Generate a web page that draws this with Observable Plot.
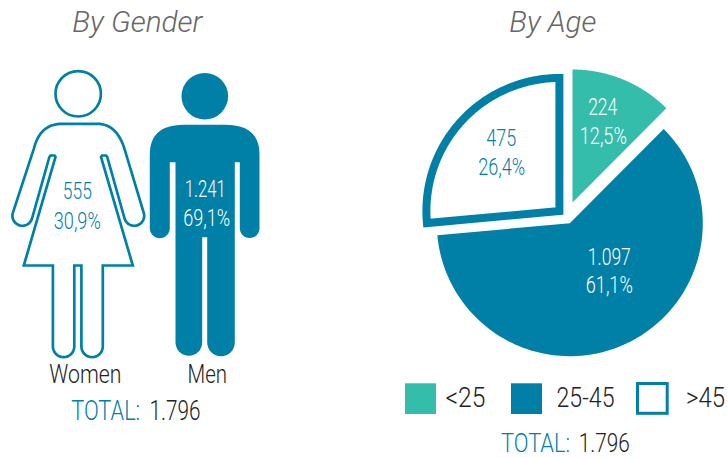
<!DOCTYPE html>
<html>
<head>
<meta charset="utf-8">
<script src="https://cdn.jsdelivr.net/npm/d3@7"></script>
<script src="https://cdn.jsdelivr.net/npm/@observablehq/plot@0.6"></script>
<style>html,body{margin:0;padding:0;background:#fff}svg{display:block}</style>
</head>
<body>
<div id="chart"></div>
<script>
// ---- values ----
const genderLabels = ["Women", "Men"];
const genderCounts = [555, 1241];
const genderPercents = [30.9, 69.1];
const ageLabels = ["<25", "25-45", ">45"];
const ageCounts = [224, 1097, 475];
const agePercents = [12.5, 61.1, 26.4];
const totalCount = 1796;

// ---- styling ----
const BLUE = "#0080A6", TEAL = "#35BDAB", INK = "#222222", GREY = "#666666", WHITE = "#ffffff";
const count = n => String(n).replace(/\B(?=(\d{3})+$)/g, ".");
const pct = v => v.toFixed(1).replace(".", ",") + "%";

// ---- glyph helpers ----
const arc = (cx, cy, r, a0, a1, n = 16) =>
  d3.range(n + 1).map(i => {
    const a = (a0 + (a1 - a0) * i / n) * Math.PI / 180;
    return [cx + r * Math.cos(a), cy + r * Math.sin(a)];
  });
const quad = (p0, c, p1, n = 14) =>
  d3.range(n + 1).map(i => {
    const t = i / n, u = 1 - t;
    return [u * u * p0[0] + 2 * u * t * c[0] + t * t * p1[0], u * u * p0[1] + 2 * u * t * c[1] + t * t * p1[1]];
  });

// Pictogram outlines
const womanOutline = [
  [61.7, 123.3], [96.7, 123.3],
  ...quad([96.7, 123.3], [116, 123.3], [124, 148.3]),
  ...arc(133.7, 215.3, 10, -17.5, 162.5),
  [106.7, 156.5], [105.5, 155], [101.5, 155], [100.5, 156.5],
  [132.3, 265], [102.3, 265],
  ...arc(91.6, 346, 10.7, 0, 180),
  [80.9, 265], [73.8, 265],
  ...arc(63.1, 346, 10.7, 0, 180),
  [52.4, 265], [23.3, 265],
  [55, 156.5], [54, 155], [50, 155], [48.9, 156.5],
  ...arc(21.9, 215.3, 10, 17.5, 197.5),
  ...quad([33.3, 148.3], [39.5, 123.3], [61.7, 123.3])
];
const manOutline = [
  [183.3, 124.3], [225, 124.3],
  ...quad([225, 124.3], [259, 124.3], [259, 154]),
  ...arc(249.15, 227.7, 9.85, 0, 180),
  [239.3, 161.7], [234.3, 161.7],
  ...arc(220.5, 342, 13.8, 0, 180),
  [206.7, 236.7], [201.7, 236.7],
  ...arc(188.35, 342, 13.35, 0, 180),
  [175, 161.7], [169.3, 161.7],
  ...arc(159.3, 227.7, 10, 0, 180),
  ...quad([149.3, 154], [149.3, 124.3], [183.3, 124.3])
];
const toPts = pts => pts.map(([x, y]) => ({x, y}));

// Exploded pie built from ageCounts
const pieRadius = 133;
const pieApex = [[572, 202], [569.3, 222.7], [558.9, 210.5]];
const cum = d3.cumsum(ageCounts);
const sum = d3.sum(ageCounts);
const slices = ageCounts.map((v, i) => {
  const start = (i ? cum[i - 1] : 0) / sum * 360 - 90;
  const end = cum[i] / sum * 360 - 90;
  const [ax, ay] = pieApex[i];
  return toPts([[ax, ay], ...arc(ax, ay, pieRadius, start, end, 120)]);
});

// Text table
const rows = [];
const put = (text, x, y, w, size, color) => rows.push({text, x, y, w, size, color});
put(count(genderCounts[0]), 76.8, 198.3, 29, 23.5, BLUE);
put(pct(genderPercents[0]), 76.8, 228.3, 47, 23.5, BLUE);
put(count(genderCounts[1]), 204.8, 196, 41, 23.5, WHITE);
put(pct(genderPercents[1]), 206.2, 225, 47, 23.5, WHITE);
put(count(ageCounts[0]), 602.2, 114, 29, 23.5, WHITE);
put(pct(agePercents[0]), 602.8, 143.3, 47, 23.5, WHITE);
put(count(ageCounts[2]), 500.8, 145, 30, 23.5, BLUE);
put(pct(agePercents[2]), 501.2, 174, 47, 23.5, BLUE);
put(count(ageCounts[1]), 608.8, 264, 43, 23.5, WHITE);
put(pct(agePercents[1]), 608.8, 292.7, 47, 23.5, WHITE);
put(genderLabels[0], 84.8, 382.3, 72, 26, INK);
put(genderLabels[1], 206.8, 382.3, 39.5, 26, INK);
put("TOTAL:", 105.2, 419, 69, 27, BLUE);
put(count(totalCount), 174.5, 419, 51, 27, INK);
put("TOTAL:", 535, 451.5, 69, 26, BLUE);
put(count(totalCount), 603.8, 451.5, 51, 26, INK);
put(ageLabels[0], 465, 406, 40, 27, INK);
put(ageLabels[1], 585, 406, 58, 27, INK);
put(ageLabels[2], 705, 406, 39, 27, INK);

const titles = [
  {text: "By Gender", x: 136.8, y: 31.7, w: 130},
  {text: "By Age", x: 552.3, y: 31.7, w: 87}
];

const swatches = [
  {x1: 405, x2: 436, y1: 383.3, y2: 414, fill: TEAL, stroke: "none", sw: 0},
  {x1: 511, x2: 542, y1: 383.3, y2: 414, fill: BLUE, stroke: "none", sw: 0},
  {x1: 637.5, x2: 667.2, y1: 383.5, y2: 413.3, fill: WHITE, stroke: BLUE, sw: 3}
];

const heads = [
  {x: 77.7, y: 93.3, fill: WHITE, stroke: BLUE, r: 22.7, sw: 2.7},
  {x: 204.3, y: 95.7, fill: BLUE, stroke: "none", r: 23.3, sw: 0}
];

const poly = (pts, o) => Plot.line(pts, {x: "x", y: "y", curve: "linear-closed", ...o});

const plot = Plot.plot({
  width: 728, height: 458,
  marginTop: 0, marginRight: 0, marginBottom: 0, marginLeft: 0,
  x: {type: "linear", domain: [0, 728], range: [0, 728], axis: null},
  y: {type: "linear", domain: [0, 458], range: [0, 458], axis: null},
  style: {background: "#fff"},
  marks: [
    poly(toPts(womanOutline), {fill: WHITE, stroke: BLUE, strokeWidth: 2.7, strokeLinejoin: "miter", strokeMiterlimit: 8}),
    poly(toPts(manOutline), {fill: BLUE, stroke: "none"}),
    ...heads.map(h => Plot.dot([h], {x: "x", y: "y", r: h.r, fill: h.fill, stroke: h.stroke, strokeWidth: h.sw})),
    poly(slices[0], {fill: TEAL, stroke: "none"}),
    poly(slices[1], {fill: BLUE, stroke: "none"}),
    poly(slices[2], {fill: WHITE, stroke: BLUE, strokeWidth: 8, strokeLinejoin: "miter", strokeMiterlimit: 10}),
    ...swatches.map(s => Plot.rect([s], {x1: "x1", x2: "x2", y1: "y1", y2: "y2", fill: s.fill, stroke: s.stroke, strokeWidth: s.sw})),
    Plot.text(titles, {x: "x", y: "y", text: "text", fill: GREY, fontSize: 29, fontFamily: "Roboto", fontWeight: 300, fontStyle: "italic", lineAnchor: "bottom", textAnchor: "middle"}),
    Plot.text(rows, {x: "x", y: "y", text: "text", fill: d => d.color, fontSize: d => d.size, fontFamily: "Roboto", fontWeight: 300, lineAnchor: "bottom", textAnchor: "middle"})
  ]
});

document.getElementById("chart").append(plot);

// Condense the text horizontally to the reference's narrow face
const fitted = [...titles, ...rows];
plot.querySelectorAll("text").forEach((t, i) => {
  if (!fitted[i]) return;
  const sx = fitted[i].w / t.getComputedTextLength();
  t.setAttribute("transform", `${t.getAttribute("transform") || ""} scale(${sx},1)`);
});
</script>
</body>
</html>
